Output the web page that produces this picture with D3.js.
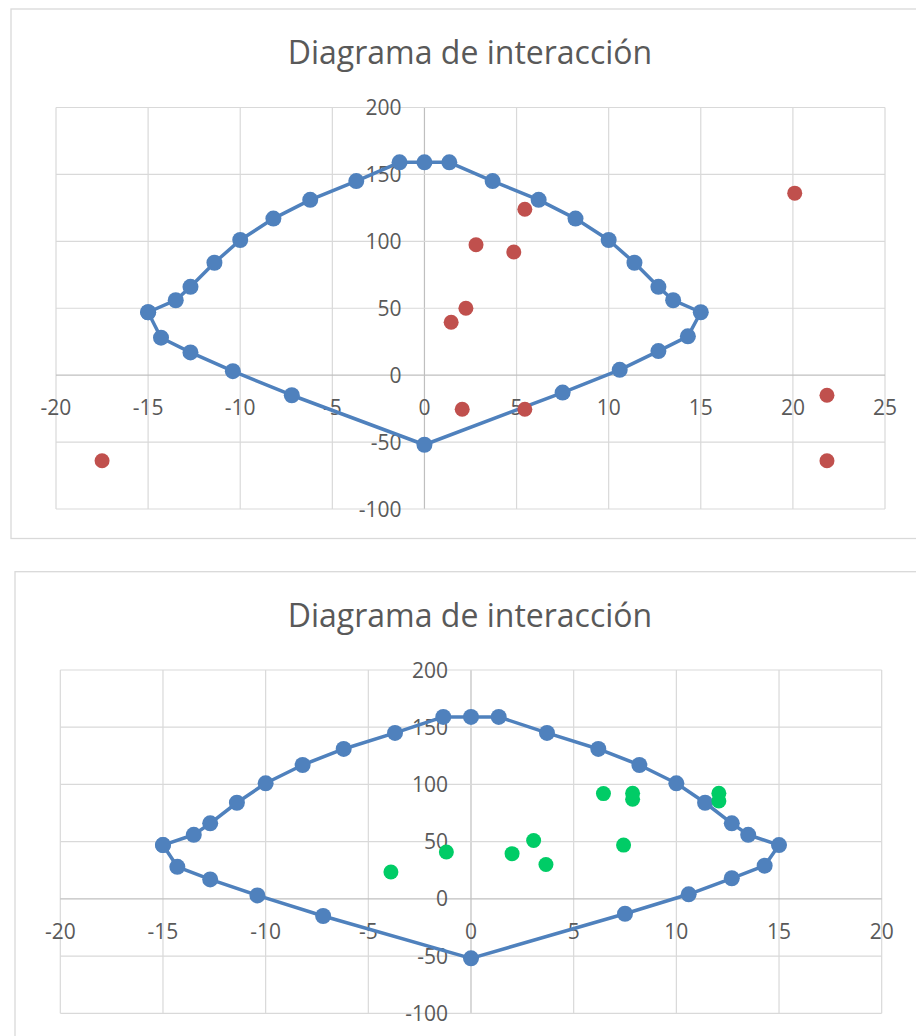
<!DOCTYPE html>
<html>
<head>
<meta charset="utf-8">
<script src="https://cdn.jsdelivr.net/npm/d3@7"></script>
<style>
  html, body { margin: 0; padding: 0; background: #fff; }
  svg { display: block; }
  text { font-family: "Open Sans", "Noto Sans", sans-serif; fill: #595959; }
</style>
</head>
<body>
<svg id="chart" width="916" height="1036"></svg>
<script>
// ---- Data ----
const titleText = "Diagrama de interacción";

// Interaction diagram (closed outline), shared by both charts
const diagramX = [-15, -14.3, -12.7, -10.4, -7.2, 0, 7.5, 10.6, 12.7, 14.3, 15, 13.5, 12.7, 11.4, 10, 8.2, 6.2, 3.7, 1.35, 0, -1.35, -3.7, -6.2, -8.2, -10, -11.4, -12.7, -13.5, -15];
const diagramY = [47, 28, 17, 3, -15, -52, -13, 4, 18, 29, 47, 56, 66, 84, 101, 117, 131, 145, 159, 159, 159, 145, 131, 117, 101, 84, 66, 56, 47];

// Chart 1 load points (red)
const loads1X = [-17.5, 20.1, 5.45, 2.8, 4.85, 2.25, 1.45, 2.05, 5.45, 21.85, 21.85];
const loads1Y = [-64, 136, 124, 97.5, 92, 50, 39.5, -25.5, -25.5, -15, -64];

// Chart 2 load points (green)
const loads2X = [-3.9, -1.2, 2.0, 3.05, 3.65, 6.45, 7.87, 7.87, 7.43, 12.07, 12.07];
const loads2Y = [23.5, 41, 39.5, 51, 30, 92, 92.3, 87, 47, 92.3, 85.5];

// Tick values
const xTicks1 = [-20, -15, -10, -5, 0, 5, 10, 15, 20, 25];
const xTicks2 = [-20, -15, -10, -5, 0, 5, 10, 15, 20];
const yTicks = [-100, -50, 0, 50, 100, 150, 200];

// ---- Layout ----
const charts = [
  { frame: {x: 11, y: 9, w: 920, h: 529.5}, titleY: 64, titleX: 470,
    plot: {l: 56, r: 885, t: 107.5, b: 509}, xDomain: [-20, 25], xTicks: xTicks1,
    px: loads1X, py: loads1Y, color: "#C0504D" },
  { frame: {x: 15, y: 571.7, w: 920, h: 480}, titleY: 627, titleX: 470,
    plot: {l: 60.3, r: 881.7, t: 670, b: 1013.3}, xDomain: [-20, 20], xTicks: xTicks2,
    px: loads2X, py: loads2Y, color: "#00CC66" }
];

const svg = d3.select("#chart");
const blue = "#4F81BD";

charts.forEach(c => {
  const g = svg.append("g");
  g.append("rect")
    .attr("x", c.frame.x).attr("y", c.frame.y)
    .attr("width", c.frame.w).attr("height", c.frame.h)
    .attr("fill", "#fff").attr("stroke", "#D9D9D9").attr("stroke-width", 1.3);

  g.append("text")
    .attr("x", c.titleX).attr("y", c.titleY)
    .attr("text-anchor", "middle")
    .attr("font-size", 32)
    .text(titleText);

  const x = d3.scaleLinear().domain(c.xDomain).range([c.plot.l, c.plot.r]);
  const y = d3.scaleLinear().domain([-100, 200]).range([c.plot.b, c.plot.t]);

  // gridlines
  g.append("g").selectAll("line.vx").data(c.xTicks).join("line")
    .attr("x1", d => x(d)).attr("x2", d => x(d))
    .attr("y1", c.plot.t).attr("y2", c.plot.b)
    .attr("stroke", d => d === 0 ? "#BFBFBF" : "#D9D9D9").attr("stroke-width", 1.2);
  g.append("g").selectAll("line.hy").data(yTicks).join("line")
    .attr("y1", d => y(d)).attr("y2", d => y(d))
    .attr("x1", c.plot.l).attr("x2", c.plot.r)
    .attr("stroke", d => d === 0 ? "#BFBFBF" : "#D9D9D9").attr("stroke-width", 1.2);

  // tick labels
  g.append("g").selectAll("text").data(c.xTicks).join("text")
    .attr("x", d => x(d)).attr("y", y(0) + 40)
    .attr("text-anchor", "middle").attr("font-size", 21)
    .text(d => d);
  g.append("g").selectAll("text").data(yTicks).join("text")
    .attr("x", x(0) - 23).attr("y", d => y(d)).attr("dy", "0.36em")
    .attr("text-anchor", "end").attr("font-size", 21)
    .text(d => d);

  // diagram
  const pts = diagramX.map((v, i) => [v, diagramY[i]]);
  const line = d3.line().x(d => x(d[0])).y(d => y(d[1]));
  g.append("path").datum(pts)
    .attr("d", line).attr("fill", "none")
    .attr("stroke", blue).attr("stroke-width", 3.5).attr("stroke-linejoin", "round");
  g.append("g").selectAll("circle").data(pts).join("circle")
    .attr("cx", d => x(d[0])).attr("cy", d => y(d[1])).attr("r", 8)
    .attr("fill", blue);

  // load points
  const lp = c.px.map((v, i) => [v, c.py[i]]);
  g.append("g").selectAll("circle").data(lp).join("circle")
    .attr("cx", d => x(d[0])).attr("cy", d => y(d[1])).attr("r", 7.5)
    .attr("fill", c.color);
});
</script>
</body>
</html>
